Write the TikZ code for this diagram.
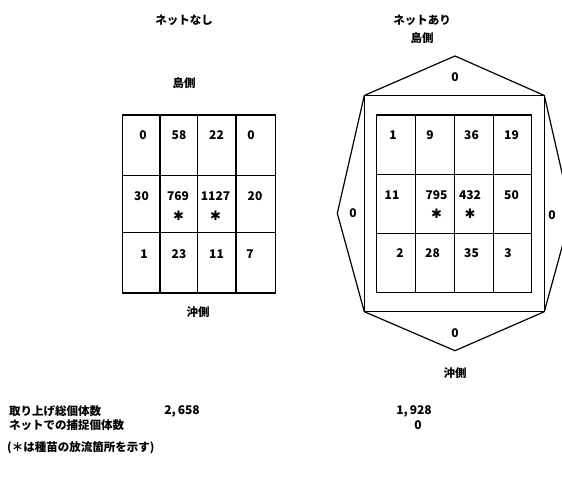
\documentclass[tikz,border=0pt]{standalone}
\usepackage{fontspec}
\setmainfont{Noto Sans CJK JP}
\newfontfamily\symfont{DejaVu Sans}
\tikzset{
  lbl/.style={font=\bfseries\fontsize{11.5}{13}\selectfont, inner sep=0pt},
  num/.style={font=\bfseries\fontsize{12}{13}\selectfont, inner sep=0pt},
  ast/.style={font=\symfont\fontsize{13}{14}\selectfont, inner sep=0pt},
  gridline/.style={line width=1.2pt},
}
\begin{document}
\begin{tikzpicture}[x=1pt,y=-1pt]
\useasboundingbox (0,0) rectangle (562,478);
\clip (0,0) rectangle (562,478);
% titles
\node[lbl] (t1) at (184,20) {ネットなし};
\node[lbl] (t2) at (422,20) {ネットあり};
\node[lbl] (s1) at (184,83) {島側};
\node[lbl] (s2) at (422,38) {島側};
\node[lbl] (o1) at (198,312) {沖側};
\node[lbl] (o2) at (455,373) {沖側};
% left grid
\draw[gridline] (122.7,115) rectangle (275.7,293);
\foreach \x in {160,197.7,236} \draw[gridline] (\x,115) -- (\x,293);
\foreach \y in {175.7,232.3} \draw[gridline] (122.7,\y) -- (275.7,\y);
\node[num] (a11) at (143,135) {0};
\node[num] (a12) at (179,135) {58};
\node[num] (a13) at (216.5,135) {22};
\node[num] (a14) at (251,135) {0};
\node[num] (a21) at (141.5,196) {30};
\node[num] (a22) at (178,196) {769};
\node[num] (a23) at (215.5,196) {1127};
\node[num] (a24) at (255,196) {20};
\node[ast] (x22) at (178.5,216) {✱};
\node[ast] (x23) at (215.5,216) {✱};
\node[num] (a31) at (144,254) {1};
\node[num] (a32) at (179,254) {23};
\node[num] (a33) at (216.5,254) {11};
\node[num] (a34) at (250,254) {7};
% right frame with triangles
\draw[gridline] (364.3,95.5) rectangle (544.3,311.7);
\draw[gridline] (364.3,95.5) -- (455,56) -- (544.3,95.5);
\draw[gridline] (364.3,95.5) -- (337.3,213.3) -- (364.3,311.7);
\draw[gridline] (544.3,95.5) -- (571.3,213.3) -- (544.3,311.7);
\draw[gridline] (364.3,311.7) -- (455,350.7) -- (544.3,311.7);
\node[num] (zt) at (455,77) {0};
\node[num] (zb) at (455,333) {0};
\node[num] (zl) at (353,213) {0};
\node[num] (zr) at (552,215) {0};
% right grid
\draw[gridline] (376.7,115) rectangle (531.7,292.3);
\foreach \x in {415.7,454.3,493.3} \draw[gridline] (\x,115) -- (\x,292.3);
\foreach \y in {174.3,233.3} \draw[gridline] (376.7,\y) -- (531.7,\y);
\node[num] (b11) at (393,135) {1};
\node[num] (b12) at (430,135) {9};
\node[num] (b13) at (471.5,135) {36};
\node[num] (b14) at (511.5,135) {19};
\node[num] (b21) at (392,195) {11};
\node[num] (b22) at (436.5,195) {795};
\node[num] (b23) at (470,195) {432};
\node[num] (b24) at (511.5,195) {50};
\node[ast] (y22) at (436.5,214) {✱};
\node[ast] (y23) at (470,214) {✱};
\node[num] (b31) at (400,253) {2};
\node[num] (b32) at (432.5,253) {28};
\node[num] (b33) at (471.5,253) {35};
\node[num] (b34) at (508,253) {3};
% bottom texts
\node[lbl, anchor=west] (r1) at (9,411.5) {取り上げ総個体数};
\node[num] (v1) at (182,411.5) {2,\kern2pt 658};
\node[num] (v2) at (414,411.5) {1,\kern2pt 928};
\node[lbl, anchor=west] (r2) at (9,425) {ネットでの捕捉個体数};
\node[num] (v3) at (418,425) {0};
\node[lbl, anchor=west] (r3) at (7,448) {(＊は種苗の放流箇所を示す)};
\end{tikzpicture}
\end{document}
